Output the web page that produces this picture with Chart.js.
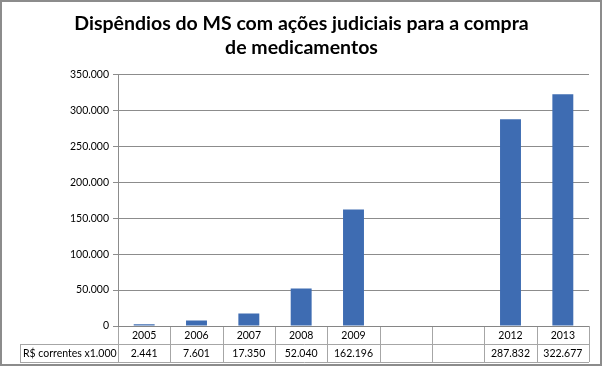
<!DOCTYPE html>
<html>
<head>
<meta charset="utf-8">
<script src="https://cdn.jsdelivr.net/npm/chart.js@4/dist/chart.umd.min.js"></script>
<style>
  html, body { margin: 0; padding: 0; background: #fff; }
  #wrap { width: 603px; height: 368px; }
</style>
</head>
<body>
<div id="wrap"><canvas id="grafico" width="603" height="368"></canvas></div>
<script>
// Dados do gráfico
const anos = ['2005', '2006', '2007', '2008', '2009', '', '', '2012', '2013'];
const valores = [2441, 7601, 17350, 52040, 162196, null, null, 287832, 322677];
const rotuloSerie = 'R$ correntes x1.000';
const tituloLinhas = ['Dispêndios do MS com ações judiciais para a compra', 'de medicamentos'];

function formatar(n) {
    return String(n).replace(/\B(?=(\d{3})+(?!\d))/g, '.');
}

const fonte = 'Lato, "Open Sans", sans-serif';

// Tabela de dados sob o eixo x e moldura
const tabelaPlugin = {
    id: 'tabela',
    afterDraw(chart) {
        const ctx = chart.ctx;
        const area = chart.chartArea;
        const x = chart.scales.x;
        const larg = (area.right - area.left) / anos.length;
        const y0 = area.bottom;
        const y1 = y0 + 18;
        const y2 = y1 + 18;
        const esq = 20;

        ctx.save();
        ctx.strokeStyle = '#a6a6a6';
        ctx.lineWidth = 1;
        ctx.beginPath();
        // linhas horizontais
        ctx.moveTo(esq, y1 + 0.5); ctx.lineTo(area.right, y1 + 0.5);
        ctx.moveTo(esq, y2 + 0.5); ctx.lineTo(area.right, y2 + 0.5);
        ctx.moveTo(esq + 0.5, y1); ctx.lineTo(esq + 0.5, y2);
        // linhas verticais
        for (let i = 0; i <= anos.length; i++) {
            const px = Math.round(area.left + i * larg) + 0.5;
            ctx.moveTo(px, y0); ctx.lineTo(px, y2);
        }
        ctx.stroke();

        // eixo x
        ctx.strokeStyle = '#868686';
        ctx.beginPath();
        ctx.moveTo(area.left, y0 + 0.5); ctx.lineTo(area.right, y0 + 0.5);
        ctx.stroke();

        ctx.fillStyle = '#000';
        ctx.font = '10.5px ' + fonte;
        ctx.textAlign = 'center';
        ctx.textBaseline = 'middle';
        anos.forEach((a, i) => {
            const cx = x.getPixelForValue(i);
            ctx.fillText(a, cx, y0 + 9.5);
            if (valores[i] !== null) ctx.fillText(formatar(valores[i]), cx, y1 + 9.5);
        });
        ctx.textAlign = 'left';
        ctx.fillText(rotuloSerie, esq + 3, y1 + 9.5);

        // moldura
        ctx.strokeStyle = '#8c8c8c';
        ctx.lineWidth = 2;
        ctx.strokeRect(1, 1, chart.width - 3, chart.height - 4);
        ctx.restore();
    }
};

const ctxBar = document.getElementById('grafico').getContext('2d');
new Chart(ctxBar, {
    type: 'bar',
    data: {
        labels: anos,
        datasets: [{
            label: rotuloSerie,
            data: valores,
            backgroundColor: '#3e6cb2',
            borderWidth: 0,
            barPercentage: 0.4,
            categoryPercentage: 1.0
        }]
    },
    options: {
        responsive: false,
        animation: false,
        layout: { padding: { left: 14, right: 14, top: 8, bottom: 42 } },
        scales: {
            x: { display: false },
            y: {
                min: 0,
                max: 350000,
                afterFit: s => { s.width = 104; },
                ticks: {
                    stepSize: 50000,
                    color: '#000',
                    font: { family: fonte, size: 10.5 },
                    padding: 4,
                    callback: v => formatar(v)
                },
                grid: { color: '#8c8c8c', tickLength: 5, tickColor: '#8c8c8c' },
                border: { color: '#8c8c8c' }
            }
        },
        plugins: {
            legend: { display: false },
            tooltip: { enabled: false },
            title: {
                display: true,
                text: tituloLinhas,
                color: '#000',
                font: { family: fonte, size: 19.5, weight: 'bold', lineHeight: 1.22 },
                padding: { top: 4, bottom: 15 }
            }
        }
    },
    plugins: [tabelaPlugin]
});
</script>
</body>
</html>
